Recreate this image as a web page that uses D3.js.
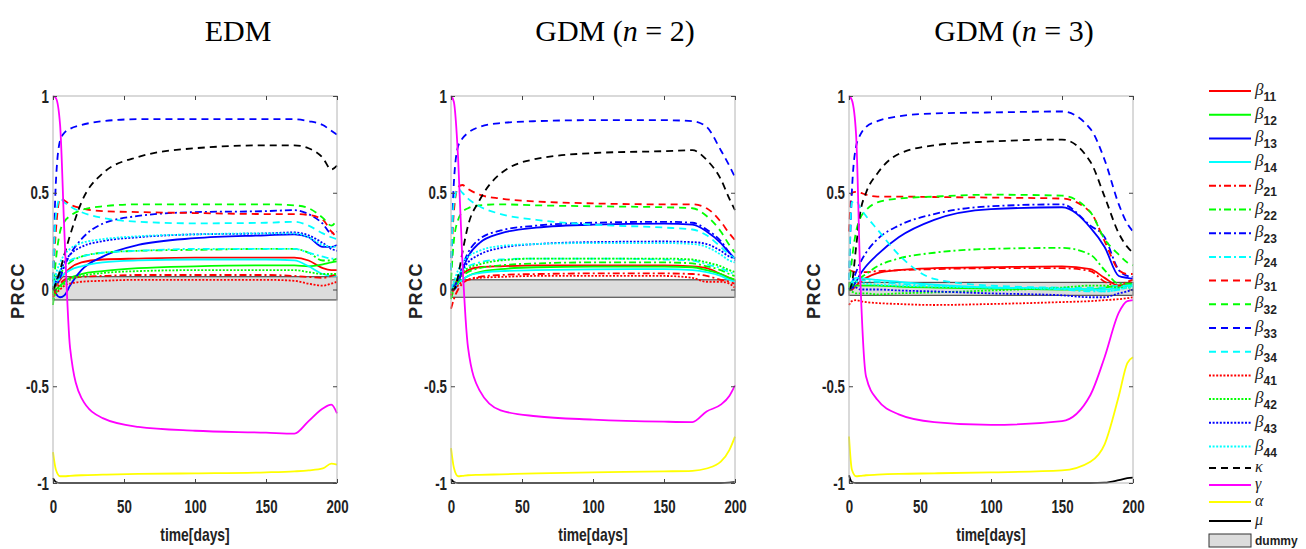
<!DOCTYPE html>
<html>
<head>
<meta charset="utf-8">
<script src="https://cdn.jsdelivr.net/npm/d3@7/dist/d3.min.js"></script>
<style>
  body { margin: 0; background: #fff; }
  .tick text { font-family: "Liberation Sans", Arial, sans-serif; font-weight: bold; font-size: 19px; fill: #222; }
</style>
</head>
<body>
<div id="chart"></div>
<script>
const days = [0, 2, 5, 8, 12, 20, 35, 60, 100, 150, 170, 180, 190, 196, 200];

const panelTitles = ['EDM', 'GDM (', 'GDM ('];
const panelN = [null, '2', '3'];
const dummyLow = [-0.054, -0.04, -0.03];
const dummyHigh = [0.066, 0.05, 0.037];

const seriesKeys = ['b11', 'b12', 'b13', 'b14', 'b21', 'b22', 'b23', 'b24',
  'b31', 'b32', 'b33', 'b34', 'b41', 'b42', 'b43', 'b44', 'kappa', 'gamma', 'alpha', 'mu'];
const greekLabels = { kappa: 'κ', gamma: 'γ', alpha: 'α', mu: 'μ' };

const ticksY = [-1, -0.5, 0, 0.5, 1];
const ticksX = [0, 50, 100, 150, 200];

// EDM
const edmValues = [
  [0.00, 0.02, 0.05, 0.08, 0.11, 0.14, 0.155, 0.16, 0.165, 0.165, 0.165, 0.15, 0.11, 0.10, 0.10],
  [-0.02, 0.00, 0.02, 0.04, 0.06, 0.08, 0.095, 0.11, 0.12, 0.125, 0.125, 0.12, 0.13, 0.14, 0.145],
  [0.02, -0.02, -0.04, -0.03, 0.02, 0.10, 0.17, 0.23, 0.265, 0.28, 0.285, 0.27, 0.22, 0.22, 0.23],
  [0.00, 0.03, 0.06, 0.08, 0.10, 0.12, 0.14, 0.15, 0.155, 0.155, 0.15, 0.12, 0.08, 0.07, 0.07],
  [-0.03, 0.00, 0.03, 0.05, 0.06, 0.065, 0.07, 0.075, 0.075, 0.075, 0.07, 0.065, 0.06, 0.07, 0.08],
  [-0.08, 0.04, 0.08, 0.11, 0.14, 0.17, 0.19, 0.20, 0.205, 0.21, 0.21, 0.19, 0.15, 0.15, 0.16],
  [0.05, 0.02, 0.06, 0.12, 0.18, 0.26, 0.34, 0.38, 0.40, 0.405, 0.41, 0.39, 0.34, 0.29, 0.30],
  [0.02, 0.06, 0.10, 0.13, 0.15, 0.17, 0.19, 0.20, 0.21, 0.21, 0.21, 0.19, 0.17, 0.16, 0.16],
  [0.05, 0.30, 0.47, 0.46, 0.44, 0.42, 0.405, 0.40, 0.395, 0.39, 0.39, 0.385, 0.36, 0.30, 0.27],
  [-0.02, 0.15, 0.30, 0.35, 0.38, 0.41, 0.43, 0.44, 0.44, 0.44, 0.435, 0.42, 0.37, 0.33, 0.36],
  [0.05, 0.55, 0.77, 0.81, 0.83, 0.85, 0.87, 0.88, 0.88, 0.88, 0.88, 0.87, 0.85, 0.82, 0.80],
  [0.05, 0.38, 0.47, 0.45, 0.43, 0.40, 0.37, 0.35, 0.342, 0.345, 0.35, 0.33, 0.29, 0.27, 0.26],
  [-0.04, -0.02, 0.00, 0.02, 0.03, 0.04, 0.045, 0.05, 0.05, 0.05, 0.045, 0.03, 0.02, 0.03, 0.04],
  [-0.05, -0.02, 0.01, 0.03, 0.05, 0.07, 0.085, 0.095, 0.10, 0.10, 0.10, 0.09, 0.08, 0.08, 0.08],
  [0.00, 0.04, 0.09, 0.14, 0.18, 0.22, 0.25, 0.27, 0.285, 0.29, 0.295, 0.28, 0.24, 0.21, 0.20],
  [0.02, 0.08, 0.14, 0.18, 0.21, 0.24, 0.26, 0.275, 0.285, 0.29, 0.29, 0.27, 0.23, 0.22, 0.22],
  [0.00, 0.03, 0.10, 0.18, 0.28, 0.45, 0.60, 0.685, 0.73, 0.745, 0.745, 0.73, 0.68, 0.62, 0.64],
  [1.00, 0.99, 0.85, 0.30, -0.30, -0.56, -0.665, -0.71, -0.73, -0.74, -0.745, -0.68, -0.615, -0.595, -0.64],
  [-0.84, -0.93, -0.965, -0.965, -0.963, -0.96, -0.957, -0.953, -0.95, -0.945, -0.94, -0.935, -0.925, -0.90, -0.905],
  [-0.975, -0.995, -1, -1, -1, -1, -1, -1, -1, -1, -1, -1, -1, -1, -1]
];

// GDM n = 2
const gdm2Values = [
  [0.00, 0.02, 0.05, 0.08, 0.10, 0.115, 0.12, 0.125, 0.125, 0.125, 0.12, 0.11, 0.08, 0.06, 0.05],
  [0.00, 0.01, 0.03, 0.05, 0.07, 0.09, 0.105, 0.115, 0.118, 0.118, 0.115, 0.10, 0.08, 0.06, 0.05],
  [0.00, 0.00, 0.03, 0.10, 0.17, 0.24, 0.29, 0.32, 0.335, 0.34, 0.335, 0.30, 0.24, 0.19, 0.16],
  [0.00, 0.01, 0.03, 0.05, 0.07, 0.085, 0.095, 0.10, 0.104, 0.105, 0.10, 0.09, 0.07, 0.05, 0.04],
  [-0.10, -0.05, 0.00, 0.03, 0.05, 0.065, 0.075, 0.08, 0.083, 0.083, 0.08, 0.07, 0.05, 0.04, 0.03],
  [-0.05, 0.00, 0.04, 0.07, 0.09, 0.11, 0.125, 0.135, 0.14, 0.14, 0.135, 0.12, 0.10, 0.08, 0.07],
  [0.02, 0.02, 0.05, 0.12, 0.19, 0.26, 0.305, 0.33, 0.345, 0.35, 0.345, 0.31, 0.25, 0.19, 0.15],
  [0.00, 0.03, 0.07, 0.10, 0.12, 0.14, 0.155, 0.16, 0.16, 0.155, 0.15, 0.13, 0.11, 0.09, 0.08],
  [0.10, 0.40, 0.53, 0.54, 0.52, 0.49, 0.47, 0.455, 0.445, 0.44, 0.44, 0.42, 0.35, 0.29, 0.255],
  [0.05, 0.25, 0.36, 0.40, 0.42, 0.435, 0.44, 0.435, 0.43, 0.425, 0.42, 0.38, 0.30, 0.23, 0.19],
  [0.10, 0.55, 0.74, 0.78, 0.81, 0.84, 0.86, 0.87, 0.875, 0.875, 0.87, 0.84, 0.72, 0.64, 0.58],
  [0.10, 0.45, 0.52, 0.50, 0.47, 0.43, 0.39, 0.36, 0.335, 0.32, 0.31, 0.28, 0.22, 0.18, 0.16],
  [-0.03, 0.00, 0.02, 0.04, 0.05, 0.06, 0.065, 0.07, 0.07, 0.07, 0.06, 0.04, 0.04, 0.03, 0.01],
  [-0.02, 0.02, 0.06, 0.09, 0.11, 0.13, 0.15, 0.16, 0.16, 0.16, 0.155, 0.14, 0.12, 0.10, 0.09],
  [0.00, 0.02, 0.05, 0.10, 0.14, 0.18, 0.215, 0.235, 0.245, 0.248, 0.245, 0.235, 0.20, 0.17, 0.16],
  [0.00, 0.04, 0.10, 0.14, 0.17, 0.20, 0.225, 0.235, 0.24, 0.24, 0.235, 0.22, 0.18, 0.15, 0.14],
  [0.00, 0.00, 0.07, 0.19, 0.33, 0.46, 0.60, 0.675, 0.705, 0.715, 0.72, 0.67, 0.57, 0.47, 0.41],
  [1.00, 0.97, 0.68, 0.15, -0.30, -0.52, -0.625, -0.655, -0.672, -0.683, -0.685, -0.63, -0.595, -0.55, -0.495],
  [-0.82, -0.92, -0.965, -0.963, -0.96, -0.958, -0.955, -0.95, -0.945, -0.94, -0.937, -0.925, -0.89, -0.83, -0.76],
  [-0.98, -0.995, -1, -1, -1, -1, -1, -1, -1, -1, -1, -1, -1, -0.998, -0.995]
];

// GDM n = 3
const gdm3Values = [
  [0.00, 0.00, 0.02, 0.04, 0.06, 0.085, 0.10, 0.11, 0.115, 0.12, 0.105, 0.06, 0.02, 0.03, 0.03],
  [0.00, 0.01, 0.02, 0.02, 0.02, 0.02, 0.015, 0.01, 0.005, 0.00, 0.00, 0.01, 0.02, 0.02, 0.02],
  [0.00, 0.01, 0.04, 0.08, 0.12, 0.18, 0.27, 0.36, 0.415, 0.425, 0.32, 0.22, 0.07, 0.06, 0.055],
  [0.00, 0.04, 0.06, 0.06, 0.055, 0.05, 0.04, 0.025, 0.01, 0.005, 0.00, 0.00, 0.01, 0.02, 0.03],
  [0.10, 0.095, 0.09, 0.09, 0.09, 0.095, 0.10, 0.105, 0.11, 0.11, 0.095, 0.04, 0.02, 0.04, 0.05],
  [0.00, 0.02, 0.04, 0.06, 0.08, 0.12, 0.16, 0.19, 0.21, 0.215, 0.18, 0.10, 0.03, 0.03, 0.03],
  [0.00, 0.03, 0.09, 0.14, 0.19, 0.26, 0.33, 0.39, 0.43, 0.44, 0.33, 0.27, 0.10, 0.07, 0.065],
  [0.00, 0.03, 0.05, 0.05, 0.045, 0.04, 0.03, 0.02, 0.01, 0.00, -0.01, -0.01, 0.00, 0.01, 0.02],
  [0.30, 0.50, 0.505, 0.50, 0.49, 0.48, 0.48, 0.478, 0.475, 0.47, 0.40, 0.25, 0.10, 0.08, 0.08],
  [0.00, 0.15, 0.30, 0.37, 0.41, 0.45, 0.47, 0.48, 0.49, 0.485, 0.40, 0.26, 0.18, 0.14, 0.125],
  [0.05, 0.50, 0.74, 0.80, 0.84, 0.87, 0.895, 0.91, 0.915, 0.92, 0.83, 0.67, 0.44, 0.34, 0.30],
  [0.05, 0.45, 0.46, 0.42, 0.38, 0.31, 0.18, 0.055, 0.02, 0.01, 0.01, 0.01, 0.02, 0.02, 0.02],
  [-0.08, -0.06, -0.055, -0.06, -0.065, -0.07, -0.075, -0.08, -0.075, -0.065, -0.06, -0.055, -0.05, -0.045, -0.04],
  [0.00, -0.01, -0.02, -0.02, -0.02, -0.025, -0.02, -0.015, -0.005, 0.01, 0.02, 0.02, 0.01, 0.01, 0.01],
  [0.00, 0.01, 0.01, 0.00, 0.00, 0.00, -0.005, -0.01, -0.02, -0.03, -0.04, -0.04, -0.02, -0.01, 0.00],
  [0.00, 0.03, 0.04, 0.035, 0.03, 0.025, 0.02, 0.015, 0.01, 0.005, 0.00, -0.01, 0.00, 0.01, 0.01],
  [0.00, 0.03, 0.22, 0.40, 0.50, 0.60, 0.70, 0.745, 0.765, 0.775, 0.66, 0.48, 0.29, 0.22, 0.19],
  [1.00, 0.98, 0.80, 0.05, -0.45, -0.57, -0.645, -0.685, -0.70, -0.68, -0.545, -0.35, -0.12, -0.06, -0.055],
  [-0.76, -0.93, -0.965, -0.963, -0.96, -0.957, -0.953, -0.95, -0.945, -0.935, -0.89, -0.80, -0.55, -0.38, -0.35],
  [-0.96, -0.995, -1, -1, -1, -1, -1, -1, -1, -1, -1, -0.998, -0.985, -0.975, -0.972]
];

const panelValues = [edmValues, gdm2Values, gdm3Values];

const width = 1306, height = 549;
const panelLeft = [53, 451, 849];
const panelW = 284, plotTop = 96, plotBottom = 483;
const titleX = [238, 615, 1014];
const squeeze = 0.7; // Matlab's axis font is a narrow bold face

const betaColors = ['#ff0000', '#00ff00', '#0000ff', '#00ffff'];
const betaDashes = [null, '7,3,2,3', '7,5', '2,1.6'];

function styleOf(key) {
  if (key[0] === 'b') {
    const row = +key[1] - 1, col = +key[2] - 1;
    return { color: betaColors[col], dash: betaDashes[row] };
  }
  if (key === 'kappa') return { color: '#000', dash: '7,5' };
  if (key === 'gamma') return { color: '#ff00ff', dash: null };
  if (key === 'alpha') return { color: '#ffff00', dash: null };
  return { color: '#000', dash: null };
}

const svg = d3.select('#chart')
  .append('svg')
  .attr('width', width)
  .attr('height', height)
  .style('font-family', 'Liberation Sans, Arial, sans-serif');

const y = d3.scaleLinear().domain([-1, 1]).range([plotBottom, plotTop]);
const fmt = d => String(d);

panelValues.forEach(function (values, p) {
  const x = d3.scaleLinear().domain([0, 200]).range([panelLeft[p], panelLeft[p] + panelW]);
  const g = svg.append('g');

  g.append('rect')
    .attr('x', x(0))
    .attr('y', y(dummyHigh[p]))
    .attr('width', x(200) - x(0))
    .attr('height', y(dummyLow[p]) - y(dummyHigh[p]))
    .attr('fill', '#dcdcdc')
    .attr('stroke', '#333')
    .attr('stroke-width', 1);

  const line = d3.line()
    .x((d, i) => x(days[i]))
    .y(d => y(d))
    .curve(d3.curveMonotoneX);

  g.selectAll('path.series')
    .data(values)
    .enter()
    .append('path')
    .attr('class', 'series')
    .attr('fill', 'none')
    .attr('stroke', (d, i) => styleOf(seriesKeys[i]).color)
    .attr('stroke-dasharray', (d, i) => styleOf(seriesKeys[i]).dash)
    .attr('stroke-width', 1.8)
    .attr('d', line);

  g.append('rect')
    .attr('x', x(0))
    .attr('y', plotTop)
    .attr('width', panelW)
    .attr('height', plotBottom - plotTop)
    .attr('fill', 'none')
    .attr('stroke', '#b4b4b4');

  const left = g.append('g')
    .attr('transform', 'translate(' + x(0) + ',0)')
    .call(d3.axisLeft(y).tickValues(ticksY).tickSize(-4).tickSizeOuter(0).tickPadding(4).tickFormat(fmt));
  const right = g.append('g')
    .attr('transform', 'translate(' + x(200) + ',0)')
    .call(d3.axisRight(y).tickValues(ticksY).tickSize(-4).tickSizeOuter(0).tickFormat(''));
  const bottom = g.append('g')
    .attr('transform', 'translate(0,' + plotBottom + ')')
    .call(d3.axisBottom(x).tickValues(ticksX).tickSize(-4).tickSizeOuter(0).tickPadding(17).tickFormat(fmt));
  const topAxis = g.append('g')
    .attr('transform', 'translate(0,' + plotTop + ')')
    .call(d3.axisTop(x).tickValues(ticksX).tickSize(-4).tickSizeOuter(0).tickFormat(''));
  [left, right, bottom, topAxis].forEach(a => {
    a.select('.domain').remove();
    a.selectAll('.tick line').attr('stroke', '#444');
  });
  left.selectAll('.tick text')
    .attr('x', -4 / squeeze)
    .attr('transform', 'scale(' + squeeze + ',1)');
  bottom.selectAll('.tick text')
    .attr('transform', 'scale(' + squeeze + ',1)');

  g.append('text')
    .attr('transform', 'translate(' + (panelLeft[p] - 29) + ',' + ((plotTop + plotBottom) / 2 + 1) + ') rotate(-90)')
    .attr('text-anchor', 'middle')
    .style('font-weight', 'bold')
    .style('font-size', '18px')
    .style('letter-spacing', '1.5px')
    .attr('fill', '#222')
    .text('PRCC');

  g.append('text')
    .attr('transform', 'translate(' + x(100) + ',541) scale(' + (squeeze + 0.03) + ',1)')
    .attr('text-anchor', 'middle')
    .style('font-weight', 'bold')
    .style('font-size', '19px')
    .attr('fill', '#222')
    .text('time[days]');

  const title = svg.append('text')
    .attr('x', titleX[p])
    .attr('y', 41)
    .attr('text-anchor', 'middle')
    .style('font-family', 'Liberation Serif, Times New Roman, serif')
    .style('font-size', '30px')
    .attr('fill', '#000')
    .text(panelTitles[p]);
  if (panelN[p]) {
    title.append('tspan').style('font-style', 'italic').text('n');
    title.append('tspan').text(' = ' + panelN[p] + ')');
  }
});

const legend = svg.append('g');
const legendYs = seriesKeys.map((k, i) => i < 16 ? 91 + i * 23.7 : [468, 485, 502, 521][i - 16]);

seriesKeys.forEach(function (key, i) {
  const st = styleOf(key);
  const ly = legendYs[i];
  legend.append('line')
    .attr('x1', 1209).attr('x2', 1251)
    .attr('y1', ly).attr('y2', ly)
    .attr('stroke', st.color)
    .attr('stroke-width', 2)
    .attr('stroke-dasharray', st.dash);
  const t = legend.append('text')
    .attr('x', 1255)
    .attr('y', ly + 4)
    .attr('fill', '#222');
  if (key[0] === 'b') {
    t.append('tspan')
      .style('font-family', 'Liberation Serif, serif')
      .style('font-style', 'italic')
      .style('font-size', '17px')
      .text('β');
    t.append('tspan')
      .attr('dy', 6)
      .style('font-weight', 'bold')
      .style('font-size', '12px')
      .text(key.slice(1));
  } else {
    t.append('tspan')
      .style('font-family', 'Liberation Serif, serif')
      .style('font-style', 'italic')
      .style('font-size', '16px')
      .text(greekLabels[key]);
  }
});

legend.append('rect')
  .attr('x', 1209).attr('y', 534)
  .attr('width', 42).attr('height', 13)
  .attr('fill', '#dcdcdc')
  .attr('stroke', '#333');
legend.append('text')
  .attr('x', 1255).attr('y', 545)
  .style('font-weight', 'bold')
  .style('font-size', '12px')
  .attr('fill', '#222')
  .text('dummy');
</script>
</body>
</html>
